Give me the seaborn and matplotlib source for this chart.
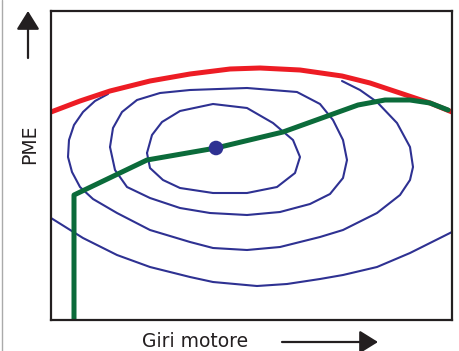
import pandas as pd
import seaborn as sns
import matplotlib.pyplot as plt
from matplotlib.lines import Line2D
from matplotlib.patches import FancyArrowPatch

# schematic engine map, units (x: giri, y: PME)
red_x = [0, 29, 59, 99, 139, 179, 209, 249, 291, 319, 349, 379, 401]
red_y = [208, 219, 229, 239, 246, 251, 252, 250, 244, 237, 227, 217, 208]

green_x = [23, 23, 96, 165, 232, 307, 334, 359, 379, 397]
green_y = [0, 125, 160, 172, 188, 215, 220, 220, 217, 210]

dot_x = [165]
dot_y = [172]

iso1_x = [96, 101, 111, 129, 162, 196, 222, 242, 249, 244, 226, 196, 162, 129, 112, 99, 96]
iso1_y = [167, 185, 198, 209, 216, 212, 197, 180, 163, 147, 133, 127, 127, 132, 140, 152, 167]

iso2_x = [59, 62, 71, 86, 109, 139, 196, 246, 269, 282, 292, 296, 292, 279, 259, 229, 196, 159,
          129, 99, 76, 64, 59]
iso2_y = [173, 192, 208, 220, 227, 230, 232, 228, 216, 200, 180, 160, 142, 126, 116, 108, 105, 107,
          112, 122, 133, 150, 173]

iso3_x = [57, 44, 32, 23, 18, 17, 21, 29, 42, 66, 99, 139, 162, 196, 229, 269, 292, 326, 349,
          359, 362, 359, 346, 326, 309, 291]
iso3_y = [226, 219, 208, 195, 180, 163, 148, 133, 121, 107, 90, 78, 72, 70, 73, 83, 90, 107, 125,
          140, 153, 173, 197, 218, 230, 239]

iso4_x = [0, 32, 66, 99, 139, 162, 206, 236, 269, 292, 326, 359, 401]
iso4_y = [102, 82, 65, 53, 43, 38, 34, 36, 41, 45, 53, 67, 88]

BLUE = '#2e3192'
RED = '#ed1c24'
GREEN = '#0b6b3a'
INK = '#231f20'

sns.set_style('white')
plt.rcParams['font.family'] = ['DejaVu Sans']

fig = plt.figure(figsize=(4.59, 3.51), dpi=100)
ax = fig.add_axes([51 / 459, 31 / 351, 401 / 459, 309 / 351])

for xs, ys in [(iso1_x, iso1_y), (iso2_x, iso2_y), (iso3_x, iso3_y), (iso4_x, iso4_y)]:
    sns.lineplot(data=pd.DataFrame({'giri': xs, 'pme': ys}), x='giri', y='pme', sort=False,
                 estimator=None, color=BLUE, lw=1.5, solid_joinstyle='round', ax=ax)
sns.lineplot(data=pd.DataFrame({'giri': red_x, 'pme': red_y}), x='giri', y='pme', sort=False,
             estimator=None, color=RED, lw=3.6, solid_joinstyle='round', ax=ax)
sns.lineplot(data=pd.DataFrame({'giri': green_x, 'pme': green_y}), x='giri', y='pme', sort=False,
             estimator=None, color=GREEN, lw=3.6, solid_joinstyle='round', ax=ax)
sns.scatterplot(x=dot_x, y=dot_y, s=110, color=BLUE, edgecolor='none', zorder=5, ax=ax)

ax.set_xlim(0, 401)
ax.set_ylim(0, 309)
ax.set_xticks([])
ax.set_yticks([])
ax.set_xlabel('')
ax.set_ylabel('')
for sp in ax.spines.values():
    sp.set_color(INK)
    sp.set_linewidth(1.6)

fig.text(195 / 459, 4 / 351, 'Giri motore', ha='center', va='baseline', fontsize=13.5, color=INK)
fig.text(30 / 459, 207 / 351, 'PME', ha='center', va='center', rotation=90, fontsize=13.5, color=INK)

arrow = dict(arrowstyle='-|>,head_length=0.45,head_width=0.28', mutation_scale=25, lw=1.6,
             color=INK, shrinkA=0, shrinkB=0)
fig.add_artist(FancyArrowPatch((28 / 459, 293 / 351), (28 / 459, 340 / 351),
                               transform=fig.transFigure, **arrow))
fig.add_artist(FancyArrowPatch((282 / 459, 9 / 351), (378 / 459, 9 / 351),
                               transform=fig.transFigure, **arrow))
fig.add_artist(Line2D([2 / 459, 2 / 459], [0, 1], color='#aaaaaa', lw=1.0, transform=fig.transFigure))

plt.savefig('out.png', dpi=100)
